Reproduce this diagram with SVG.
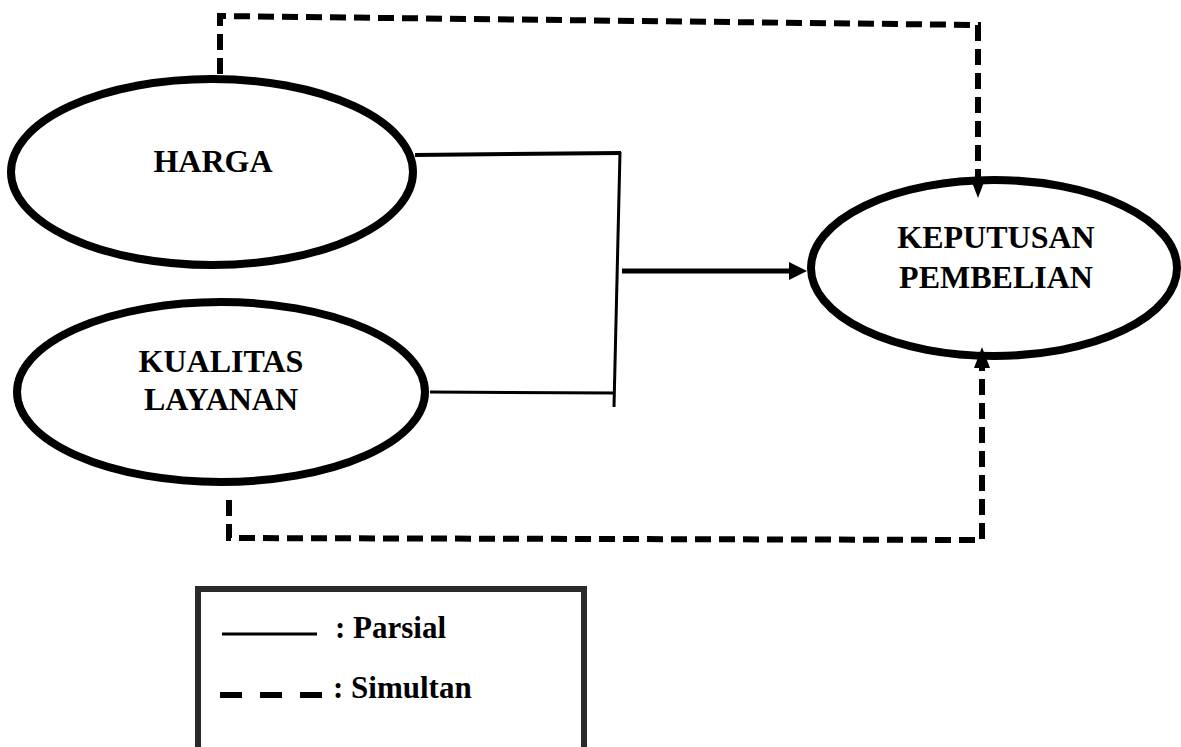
<svg xmlns="http://www.w3.org/2000/svg" width="1181" height="747" viewBox="0 0 1181 747">
<style>
.node{fill:#fff;stroke:#000;stroke-width:8}
.lbl{font-family:"Liberation Serif","Times New Roman",serif;font-weight:bold;font-size:32px;fill:#000;text-anchor:middle}
.leg{font-family:"Liberation Serif","Times New Roman",serif;font-weight:bold;font-size:31px;fill:#000}
.solid{fill:none;stroke:#000}
.dash{fill:none;stroke:#000;stroke-width:6;stroke-dasharray:16 8}
</style>
<defs>
<marker id="arrD" markerUnits="userSpaceOnUse" markerWidth="22" markerHeight="16" refX="0" refY="8" orient="auto" overflow="visible">
<path d="M0,0 L21,8 L0,16 z" fill="#000"/>
</marker>
<marker id="arrS" markerUnits="userSpaceOnUse" markerWidth="19" markerHeight="18" refX="0" refY="9" orient="auto" overflow="visible">
<path d="M0,0 L18,9 L0,18 z" fill="#000"/>
</marker>
</defs>
<rect width="1181" height="747" fill="#fff"/>
<g id="harga">
<ellipse class="node" cx="212" cy="172" rx="201" ry="93"/>
<text class="lbl" x="213" y="172">HARGA</text>
</g>
<g id="kualitas-layanan">
<ellipse class="node" cx="221" cy="392" rx="204" ry="90"/>
<text class="lbl" x="221" y="372">KUALITAS</text>
<text class="lbl" x="221" y="410">LAYANAN</text>
</g>
<g id="keputusan-pembelian">
<ellipse class="node" cx="994" cy="268" rx="183" ry="88"/>
<text class="lbl" x="996" y="248">KEPUTUSAN</text>
<text class="lbl" x="996" y="288">PEMBELIAN</text>
</g>
<g id="connectors">
<path class="solid" stroke-width="4" d="M415,155 L621,153"/>
<path class="solid" stroke-width="3" d="M620,152 L614,407"/>
<path class="solid" stroke-width="3" d="M430,392 L615,393"/>
<path class="solid" stroke-width="5" d="M622,271 L789,271" marker-end="url(#arrS)"/>
<path class="dash" d="M220,74 V16 L978,25 V177" marker-end="url(#arrD)"/>
<path class="dash" d="M229,500 V538 L982,540 V368" marker-end="url(#arrD)"/>
</g>
<g id="legend">
<rect x="198" y="589" width="386" height="200" fill="none" stroke="#2a2a2a" stroke-width="6"/>
<line x1="222" y1="634" x2="317" y2="634" stroke="#000" stroke-width="3"/>
<text class="leg" x="335" y="638">: Parsial</text>
<line x1="220" y1="695" x2="324" y2="695" stroke="#000" stroke-width="6" stroke-dasharray="22 18"/>
<text class="leg" x="333" y="698">: Simultan</text>
</g>
</svg>
